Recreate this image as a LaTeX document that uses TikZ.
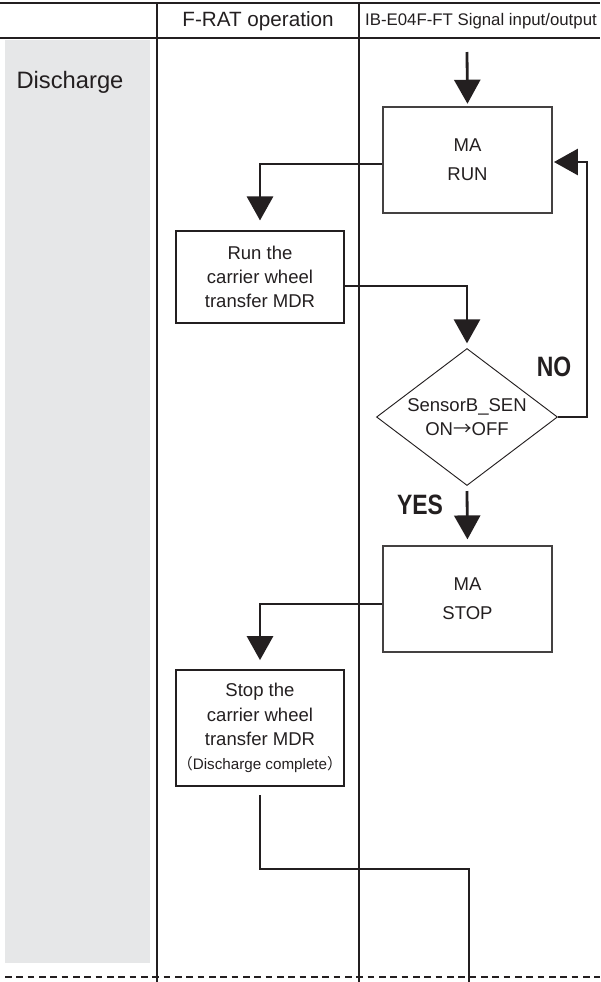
\documentclass[tikz,border=0pt]{standalone}
\usepackage{fontspec}
\setmainfont{Liberation Sans}
\newfontfamily\cjkfont{Noto Sans CJK JP}
\newfontfamily\yesnofont[FakeStretch=0.82]{Liberation Sans}
\usetikzlibrary{positioning, shapes.geometric, arrows.meta}
\definecolor{ink}{HTML}{231F20}
\definecolor{lanegray}{HTML}{E6E7E8}

\begin{document}
\begin{tikzpicture}[
  x=0.75pt, y=-0.75pt,
  lane/.style={draw=ink, line width=1.8pt},
  headlabel/.style={text=ink, font=\fontsize{15.5}{18}\selectfont},
  sidelabel/.style={text=ink, font=\fontsize{12.6}{15}\selectfont},
  phaselabel/.style={text=ink, font=\fontsize{17.8}{20}\selectfont},
  sigbox/.style={draw=ink!85, line width=0.9pt, minimum width=126.75pt, minimum height=79.5pt, align=center, text=ink, font=\fontsize{13.9}{21.5}\selectfont},
  fnbox/.style={draw=ink, line width=1.8pt, minimum width=126pt, inner xsep=0.5pt, align=center, text=ink, font=\fontsize{13.9}{18.2}\selectfont},
  decision/.style={diamond, draw=ink, line width=0.7pt, inner sep=0pt, aspect=1.32, minimum width=135.75pt, minimum height=102.75pt, align=center, text=ink, font=\fontsize{13.9}{18.2}\selectfont},
  answer/.style={text=ink, font=\yesnofont\bfseries\fontsize{21}{24}\selectfont},
  flow/.style={-{Triangle[width=19.5pt, length=18pt]}, draw=ink, line width=2.1pt},
  link/.style={draw=ink, line width=2.1pt}
]
\useasboundingbox (0,0) rectangle (600,982);

% --- 1. Lanes ---
\fill[lanegray] (5,40) rectangle (150,963);
\draw[lane, line width=2.2pt] (0,3) -- (600,3);
\draw[lane] (0,38) -- (600,38);
\draw[lane] (157,3) -- (157,982);
\draw[lane] (359,3) -- (359,982);
\draw[ink, line width=0.8pt, dash pattern=on 5pt off 3.5pt] (5,977) -- (600,977);

\node[headlabel] (hfrat) at (258,21) {F-RAT operation};
\node[sidelabel] (hsig) at (481,21) {IB-E04F-FT Signal input/output};
\node[phaselabel] (phase) at (70,82) {Discharge};

% --- 2. Signal column ---
\node[sigbox] (marun) at (467.5,160) {MA\\RUN};
\node[decision] (sensor) at (467,417) {SensorB\_SEN\\ON{\cjkfont →}OFF};
\node[sigbox] (mastop) at (467.5,599) {MA\\STOP};

% --- 3. F-RAT column ---
\node[fnbox, minimum height=69pt] (runmdr) at (260,277) {Run the\\carrier wheel\\transfer MDR};
\node[fnbox, minimum height=87pt] (stopmdr) at (260,728) {Stop the\\carrier wheel\\transfer MDR\\{\fontsize{11.4}{18.2}\selectfont{\cjkfont （}Discharge complete{\cjkfont ）}}};

% --- 4. Flow ---
\coordinate (entry) at (467,52);
\coordinate (noturn) at (587,162);
\coordinate (yesstart) at (467,491);
\coordinate (exitturn) at (469,869);
\coordinate (exit) at (469,982);

\draw[flow, shorten >=2pt] (entry) -- (marun.north);
\draw[flow, shorten >=7pt] ([yshift=-3pt]marun.west) -| (runmdr.north);
\draw[flow, shorten >=3.5pt] ([yshift=-6.75pt]runmdr.east) -| (sensor.north);
\draw[flow, shorten >=1pt] (sensor.east) -| (noturn) -- (marun.east |- noturn);
\draw[flow, shorten >=4.5pt] (yesstart) -- (mastop.north);
\draw[flow, shorten >=6.5pt] ([yshift=-3.75pt]mastop.west) -| (stopmdr.north);
\draw[link] ([yshift=-6pt]stopmdr.south) |- (exitturn) -- (exit);

\node[answer] (lblno) at (554,367) {NO};
\node[answer] (lblyes) at (420,505) {YES};

\end{tikzpicture}
\end{document}
